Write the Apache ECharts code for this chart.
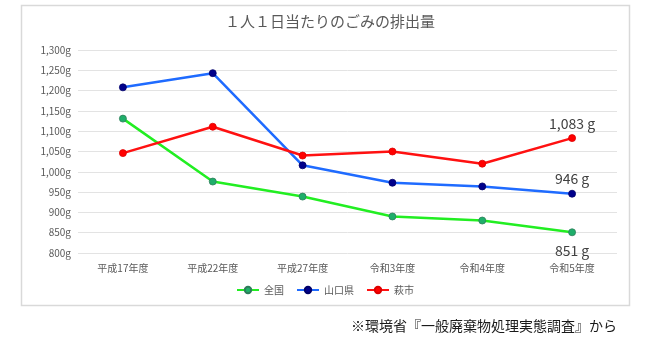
<!DOCTYPE html>
<html>
<head>
<meta charset="utf-8">
<script src="https://cdn.jsdelivr.net/npm/echarts@6/dist/echarts.min.js"></script>
<style>
  html, body { margin: 0; padding: 0; background: #ffffff; }
  #chart { width: 650px; height: 348px; }
</style>
</head>
<body>
<div id="chart"></div>
<script>
// Survey years
const categories = ['平成17年度', '平成22年度', '平成27年度', '令和3年度', '令和4年度', '令和5年度'];
// Daily waste per person (g)
const nationwide = [1131, 976, 939, 890, 880, 851];
const yamaguchi = [1208, 1243, 1016, 973, 964, 946];
const hagi = [1046, 1111, 1040, 1050, 1020, 1083];
const seriesNames = ['全国', '山口県', '萩市'];
// Value axis range
const yMin = 800, yMax = 1300, yStep = 50;

const FONT = '"Noto Sans CJK JP", "Noto Sans", sans-serif';
const chart = echarts.init(document.getElementById('chart'), null, { renderer: 'canvas' });

function fmtG(v) {
  return v.toLocaleString('en-US') + 'g';
}

// Label only the latest year
function lastLabel(position, offset) {
  return {
    show: true,
    position: position,
    offset: offset,
    fontFamily: FONT,
    fontSize: 14,
    color: '#404040',
    formatter: function (p) {
      return p.dataIndex === categories.length - 1 ? p.value.toLocaleString('en-US') + ' g' : '';
    }
  };
}

function lineSeries(name, data, lineColor, markColor, borderColor, label) {
  return {
    name: name,
    type: 'line',
    data: data,
    symbol: 'circle',
    symbolSize: 7,
    lineStyle: { color: lineColor, width: 2.5 },
    itemStyle: { color: markColor, borderColor: borderColor, borderWidth: 0.8 },
    label: label,
    emphasis: { disabled: true },
    z: 3
  };
}

chart.setOption({
  animation: false,
  backgroundColor: '#ffffff',
  title: [
    {
      text: '１人１日当たりのごみの排出量',
      left: 325,
      textAlign: 'center',
      top: 9,
      textStyle: { fontFamily: FONT, fontSize: 15, fontWeight: 'normal', color: '#595959' }
    },
    {
      text: '※環境省『一般廃棄物処理実態調査』から',
      right: 28,
      top: 314,
      textStyle: { fontFamily: FONT, fontSize: 14, fontWeight: 'normal', color: '#1a1a1a' }
    }
  ],
  graphic: [
    {
      type: 'rect',
      shape: { x: 21.5, y: 5.5, width: 608, height: 300 },
      style: { fill: 'none', stroke: '#d9d9d9', lineWidth: 1.5 },
      silent: true,
      z: -1
    }
  ],
  legend: {
    data: seriesNames,
    bottom: 48,
    left: 'center',
    itemWidth: 22,
    itemHeight: 8,
    itemGap: 12,
    textStyle: { fontFamily: FONT, fontSize: 10, color: '#595959' }
  },
  grid: { left: 78, right: 33, top: 50, height: 203, containLabel: false },
  xAxis: {
    type: 'category',
    data: categories,
    boundaryGap: true,
    axisLine: { show: false },
    axisTick: { show: false },
    axisLabel: { fontFamily: FONT, fontSize: 10, color: '#595959', margin: 10 }
  },
  yAxis: {
    type: 'value',
    min: yMin,
    max: yMax,
    interval: yStep,
    axisLine: { show: false },
    axisTick: { show: false },
    splitLine: { lineStyle: { color: '#e3e3e3', width: 1 } },
    axisLabel: { fontFamily: FONT, fontSize: 10, color: '#595959', margin: 7, formatter: fmtG }
  },
  series: [
    lineSeries(seriesNames[0], nationwide, '#22ee22', '#1fae6a', '#2e7d5a', lastLabel('bottom', [0, 2])),
    lineSeries(seriesNames[1], yamaguchi, '#1f6bff', '#00008b', '#00006a', lastLabel('top', [0, 1])),
    lineSeries(seriesNames[2], hagi, '#ff1111', '#ff0000', '#dd0000', lastLabel('top', [0, 1]))
  ]
});
</script>
</body>
</html>
